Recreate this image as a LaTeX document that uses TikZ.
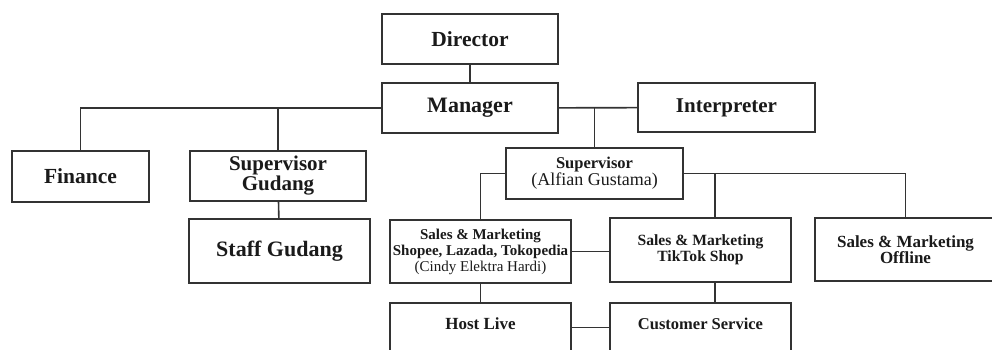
\documentclass[tikz,border=0pt]{standalone}
\usepackage{fontspec}
\setmainfont{Liberation Serif}
\definecolor{linegray}{HTML}{333333}
\definecolor{ink}{HTML}{1A1A1A}
\tikzset{
	orgbox/.style={draw=linegray, line width=1.6pt, fill=white, align=center, inner sep=0pt, text=ink},
	boxsize/.style 2 args={minimum width=#1pt, minimum height=#2pt},
	link/.style={draw=linegray, line width=1.6pt}
}
\newcommand{\fs}[2]{\fontsize{#1}{#2}\selectfont}
\begin{document}
\begin{tikzpicture}[x=1pt, y=-1pt]
					\useasboundingbox (0,0) rectangle (992,349); %picture frame
					\clip (0,0) rectangle (992,349);
					\node[orgbox, boxsize={176}{50}, font=\fs{21.5}{20}\bfseries] (director) at (470,39) {Director}; %top box
					\node[orgbox, boxsize={176}{50}, font=\fs{22}{20}\bfseries] (manager) at (470,108) {Manager}; %manager box
					\node[orgbox, boxsize={177}{49}, font=\fs{21}{20}\bfseries] (interp) at (726.5,107.5) {Interpreter}; %interpreter box
					\node[orgbox, boxsize={137}{51}, font=\fs{21.5}{20}\bfseries] (finance) at (80.5,176.5) {Finance}; %finance box
					\node[orgbox, boxsize={176}{50}, font=\fs{21}{20}\bfseries] (supgudang) at (278,176) {Supervisor\\Gudang}; %warehouse supervisor
					\node[orgbox, boxsize={181}{64}, font=\fs{22}{20}\bfseries] (staff) at (279.5,251) {Staff Gudang}; %warehouse staff
					\node[orgbox, boxsize={177}{51}] (supervisor) at (594.5,173.5) {{\fs{16.5}{18}\bfseries Supervisor}\\{\fs{18}{18}(Alfian Gustama)}}; %sales supervisor
					\node[orgbox, boxsize={181}{63}, font=\fs{15}{16}] (smshopee) at (480.5,251.5) {\textbf{Sales \& Marketing}\\\textbf{Shopee, Lazada, Tokopedia}\\(Cindy Elektra Hardi)}; %marketplace team
					\node[orgbox, boxsize={181}{64}, font=\fs{15.6}{16}\bfseries] (smtiktok) at (700.5,250) {Sales \& Marketing\\TikTok Shop}; %tiktok team
					\node[orgbox, boxsize={181}{63}, font=\fs{17}{16}\bfseries] (offline) at (905.5,249.5) {Sales \& Marketing\\Offline}; %offline team
					\node[orgbox, minimum width=181pt, text height=27pt, text depth=40pt, anchor=north, font=\fs{17}{18}\bfseries] (hostlive) at (480.5,302) {Host Live}; %live host
					\node[orgbox, minimum width=181pt, text height=27pt, text depth=40pt, anchor=north, font=\fs{16.5}{18}\bfseries] (cs) at (700.5,302) {Customer Service}; %customer service
					\draw[link] (director) -- (manager); %director to manager
					\draw[link] (manager.west) -| (finance.north); %manager to finance
					\draw[link] (supgudang.north) -- (supgudang.north |- manager.west); %drop to warehouse
					\draw[link] (supgudang) -- (staff); %warehouse chain
					\draw[link] (manager) -- (interp); %manager to interpreter
					\draw[link] (supervisor.north) -- (supervisor.north |- manager.east); %drop to supervisor
					\draw[link] (supervisor.west) -| (smshopee.north); %left branch
					\draw[link] (supervisor.east) -| (offline.north); %right branch
					\draw[link] ([xshift=14.5pt]smtiktok.north) -- ([xshift=14.5pt]smtiktok.north |- supervisor.east); %drop to tiktok
					\draw[link] (smshopee.east) -- (smshopee.east -| smtiktok.west); %between sales teams
					\draw[link] (smshopee) -- (hostlive); %shopee to host
					\draw[link] ([xshift=14.5pt]smtiktok.south) -- ([xshift=14.5pt]smtiktok.south |- cs.north); %tiktok to service
					\draw[link] (hostlive.mid east) -- (cs.mid west); %host to service
				\end{tikzpicture}
\end{document}
